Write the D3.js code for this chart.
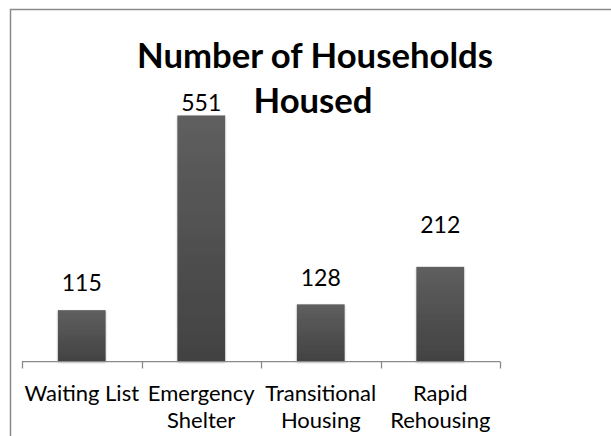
<!DOCTYPE html>
<html><head><meta charset="utf-8">
<script src="https://cdn.jsdelivr.net/npm/d3@7"></script>
<style>html,body{margin:0;padding:0;background:#fff;}svg{display:block;}</style>
</head><body>
<svg id="chart" width="611" height="436"></svg>
<script>
const categories = ["Waiting List", "Emergency Shelter", "Transitional Housing", "Rapid Rehousing"];
const categoryLines = [["Waiting List"], ["Emergency", "Shelter"], ["Transitional", "Housing"], ["Rapid", "Rehousing"]];
const values = [115, 551, 128, 212];
const titleLines = ["Number of Households", "Housed"];
// label gap above bar (px), as placed in the reference
const labelGap = [19, 4, 18, 34];

const W = 611, H = 436;
const svg = d3.select("#chart");
const FONT = "Lato, 'Open Sans', sans-serif";

svg.append("rect").attr("width", W).attr("height", H).attr("fill", "#fff");
// chart border (clipped at right and bottom)
svg.append("path").attr("d", `M10.5,${H} V9.5 H${W}`).attr("fill", "none")
  .attr("stroke", "#8a8a8a").attr("stroke-width", 1.5);

const x = d3.scaleBand().domain(categories).range([22, 500]).paddingInner(0.6).paddingOuter(0.3);
const y = d3.scaleLinear().domain([0, 600]).range([361.5, 93.6]);

const defs = svg.append("defs");
const grad = defs.append("linearGradient").attr("id", "barGrad").attr("x1", 0).attr("y1", 0).attr("x2", 0).attr("y2", 1);
grad.append("stop").attr("offset", "0%").attr("stop-color", "#5f5f5f");
grad.append("stop").attr("offset", "100%").attr("stop-color", "#424242");
const f = defs.append("filter").attr("id", "shadow").attr("x", "-20%").attr("y", "-5%").attr("width", "140%").attr("height", "115%");
f.append("feDropShadow").attr("dx", 0).attr("dy", 1).attr("stdDeviation", 1.2).attr("flood-color", "#000").attr("flood-opacity", 0.25);

// bars
svg.append("g").selectAll("rect").data(values).join("rect")
  .attr("x", (d, i) => x(categories[i]))
  .attr("y", d => y(d))
  .attr("width", x.bandwidth())
  .attr("height", d => y(0) - y(d))
  .attr("fill", "url(#barGrad)")
  .attr("filter", "url(#shadow)");

// axis line and ticks at band boundaries
const [r0, r1] = x.range();
const step = x.step();
const ax = svg.append("g").attr("stroke", "#8a8a8a").attr("stroke-width", 1.3).attr("fill", "none");
ax.append("line").attr("x1", r0).attr("x2", r1).attr("y1", y(0) + 0.2).attr("y2", y(0) + 0.2);
d3.range(categories.length + 1).forEach(i => {
  const tx = Math.round(r0 + i * step) + 0.5;
  ax.append("line").attr("x1", tx).attr("x2", tx).attr("y1", y(0)).attr("y2", y(0) + 7);
});

function fitText(sel, target) {
  const w = sel.node().getComputedTextLength();
  const fs = parseFloat(sel.attr("font-size"));
  sel.attr("font-size", fs * target / w);
}

// value labels
svg.append("g").selectAll("text").data(values).join("text")
  .attr("x", (d, i) => x(categories[i]) + x.bandwidth() / 2)
  .attr("y", (d, i) => y(d) - labelGap[i])
  .attr("text-anchor", "middle")
  .attr("font-family", FONT).attr("font-size", 23).attr("fill", "#000")
  .text(d => d);

// category labels
const cg = svg.append("g");
categoryLines.forEach((lines, i) => {
  const cx = x(categories[i]) + x.bandwidth() / 2;
  lines.forEach((ln, j) => {
    cg.append("text").attr("x", cx).attr("y", 401 + j * 27)
      .attr("text-anchor", "middle").attr("font-family", FONT).attr("font-size", 22)
      .attr("fill", "#000").text(ln);
  });
});

// title
const tg = svg.append("g");
const t1 = tg.append("text").attr("x", 315).attr("y", 68)
  .attr("text-anchor", "middle").attr("font-family", FONT).attr("font-weight", "bold")
  .attr("font-size", 32).attr("fill", "#000").text(titleLines[0]);
fitText(t1, 356);
tg.append("text").attr("x", 313).attr("y", 113)
  .attr("text-anchor", "middle").attr("font-family", FONT).attr("font-weight", "bold")
  .attr("font-size", t1.attr("font-size")).attr("fill", "#000").text(titleLines[1]);
</script>
</body></html>
